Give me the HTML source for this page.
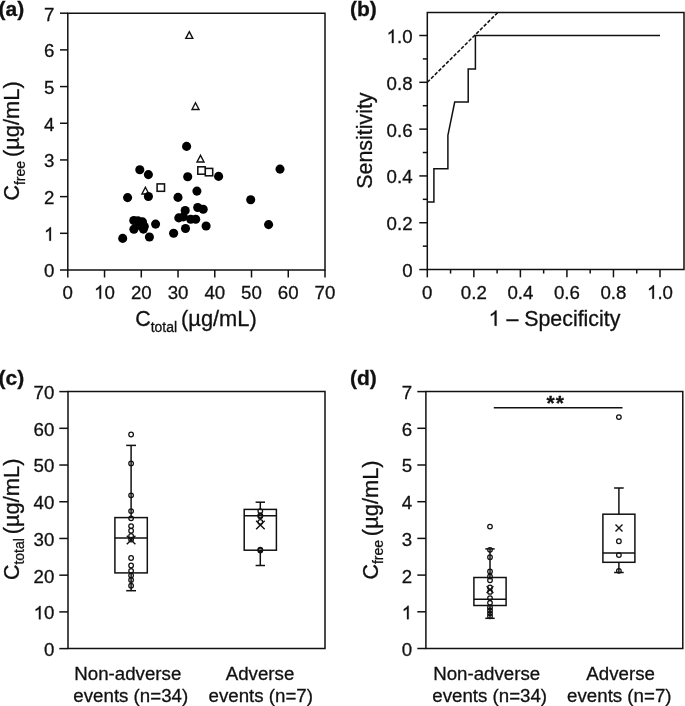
<!DOCTYPE html>
<html><head><meta charset="utf-8"><style>
html,body{margin:0;padding:0;background:#fff;}
body{width:685px;height:706px;overflow:hidden;}
svg{display:block;font-family:"Liberation Sans",sans-serif;filter:grayscale(1);}
</style></head><body>
<svg width="685" height="706" viewBox="0 0 685 706">
<g stroke="#111" fill="none">
<path d="M67.80,13.20 H325.00 V270.00 H67.80 Z" fill="none" stroke-width="1.5" stroke-linejoin="miter"/>
<line x1="60.00" y1="270.00" x2="67.80" y2="270.00" stroke-width="1.5" />
<text fill="#111" stroke="#111" stroke-width="0.3" x="0" y="0" transform="translate(54.40,277.40) scale(1,1.0)" font-size="18.7" text-anchor="end" >0</text>
<line x1="60.00" y1="233.31" x2="67.80" y2="233.31" stroke-width="1.5" />
<path d="M583,0 L763,0 L763,1466 L646,1466 C614,1403 560,1337 486,1270 C412,1203 324,1146 222,1099 L222,925 C278,946 342,977 414,1018 C486,1059 542,1099 583,1138 Z" transform="translate(44.00,240.71) scale(0.00913,-0.00913)" fill="#111" stroke="#111" stroke-width="32.9"/>
<text fill="#111" stroke="#111" stroke-width="0.3" x="0" y="0" transform="translate(54.40,240.71) scale(1,1.0)" font-size="18.7" text-anchor="end" > </text>
<line x1="60.00" y1="196.63" x2="67.80" y2="196.63" stroke-width="1.5" />
<text fill="#111" stroke="#111" stroke-width="0.3" x="0" y="0" transform="translate(54.40,204.03) scale(1,1.0)" font-size="18.7" text-anchor="end" >2</text>
<line x1="60.00" y1="159.94" x2="67.80" y2="159.94" stroke-width="1.5" />
<text fill="#111" stroke="#111" stroke-width="0.3" x="0" y="0" transform="translate(54.40,167.34) scale(1,1.0)" font-size="18.7" text-anchor="end" >3</text>
<line x1="60.00" y1="123.26" x2="67.80" y2="123.26" stroke-width="1.5" />
<text fill="#111" stroke="#111" stroke-width="0.3" x="0" y="0" transform="translate(54.40,130.66) scale(1,1.0)" font-size="18.7" text-anchor="end" >4</text>
<line x1="60.00" y1="86.57" x2="67.80" y2="86.57" stroke-width="1.5" />
<text fill="#111" stroke="#111" stroke-width="0.3" x="0" y="0" transform="translate(54.40,93.97) scale(1,1.0)" font-size="18.7" text-anchor="end" >5</text>
<line x1="60.00" y1="49.89" x2="67.80" y2="49.89" stroke-width="1.5" />
<text fill="#111" stroke="#111" stroke-width="0.3" x="0" y="0" transform="translate(54.40,57.29) scale(1,1.0)" font-size="18.7" text-anchor="end" >6</text>
<line x1="60.00" y1="13.20" x2="67.80" y2="13.20" stroke-width="1.5" />
<text fill="#111" stroke="#111" stroke-width="0.3" x="0" y="0" transform="translate(54.40,20.60) scale(1,1.0)" font-size="18.7" text-anchor="end" >7</text>
<line x1="67.80" y1="270.00" x2="67.80" y2="277.50" stroke-width="1.5" />
<text fill="#111" stroke="#111" stroke-width="0.3" x="0" y="0" transform="translate(67.80,298.70) scale(1,1.0)" font-size="18.7" text-anchor="middle" >0</text>
<line x1="104.54" y1="270.00" x2="104.54" y2="277.50" stroke-width="1.5" />
<path d="M583,0 L763,0 L763,1466 L646,1466 C614,1403 560,1337 486,1270 C412,1203 324,1146 222,1099 L222,925 C278,946 342,977 414,1018 C486,1059 542,1099 583,1138 Z" transform="translate(94.14,298.70) scale(0.00913,-0.00913)" fill="#111" stroke="#111" stroke-width="32.9"/>
<text fill="#111" stroke="#111" stroke-width="0.3" x="0" y="0" transform="translate(104.54,298.70) scale(1,1.0)" font-size="18.7" text-anchor="middle" > 0</text>
<line x1="141.29" y1="270.00" x2="141.29" y2="277.50" stroke-width="1.5" />
<text fill="#111" stroke="#111" stroke-width="0.3" x="0" y="0" transform="translate(141.29,298.70) scale(1,1.0)" font-size="18.7" text-anchor="middle" >20</text>
<line x1="178.03" y1="270.00" x2="178.03" y2="277.50" stroke-width="1.5" />
<text fill="#111" stroke="#111" stroke-width="0.3" x="0" y="0" transform="translate(178.03,298.70) scale(1,1.0)" font-size="18.7" text-anchor="middle" >30</text>
<line x1="214.77" y1="270.00" x2="214.77" y2="277.50" stroke-width="1.5" />
<text fill="#111" stroke="#111" stroke-width="0.3" x="0" y="0" transform="translate(214.77,298.70) scale(1,1.0)" font-size="18.7" text-anchor="middle" >40</text>
<line x1="251.51" y1="270.00" x2="251.51" y2="277.50" stroke-width="1.5" />
<text fill="#111" stroke="#111" stroke-width="0.3" x="0" y="0" transform="translate(251.51,298.70) scale(1,1.0)" font-size="18.7" text-anchor="middle" >50</text>
<line x1="288.26" y1="270.00" x2="288.26" y2="277.50" stroke-width="1.5" />
<text fill="#111" stroke="#111" stroke-width="0.3" x="0" y="0" transform="translate(288.26,298.70) scale(1,1.0)" font-size="18.7" text-anchor="middle" >60</text>
<line x1="325.00" y1="270.00" x2="325.00" y2="277.50" stroke-width="1.5" />
<text fill="#111" stroke="#111" stroke-width="0.3" x="0" y="0" transform="translate(325.00,298.70) scale(1,1.0)" font-size="18.7" text-anchor="middle" >70</text>
<text fill="#111" stroke="#111" stroke-width="0.3" x="0" y="0" transform="translate(135.23,326.20) scale(1,1.02)" font-size="21.4" text-anchor="start">C<tspan font-size="14.0" dy="5.4">total&#160;</tspan><tspan dy="-5.4" textLength="75.76" lengthAdjust="spacingAndGlyphs">(µg/mL)</tspan></text>
<text fill="#111" stroke="#111" stroke-width="0.3" x="0" y="0" transform="translate(19.00,200.47) rotate(-90) scale(1,1.02)" font-size="21.4" text-anchor="start">C<tspan font-size="14.0" dy="5.4">free&#160;</tspan><tspan dy="-5.4" textLength="75.76" lengthAdjust="spacingAndGlyphs">(µg/mL)</tspan></text>
<text fill="#111" stroke="#111" stroke-width="0.3" x="0" y="0" transform="translate(-1.40,16.00) scale(1,1.0)" font-size="21.0" text-anchor="start" font-weight="bold" >(a)</text>
<path d="M189.30,31.65 L192.80,38.35 L185.80,38.35 Z" fill="#fff" stroke-width="1.4" stroke-linejoin="miter"/>
<path d="M195.50,102.75 L199.00,109.45 L192.00,109.45 Z" fill="#fff" stroke-width="1.4" stroke-linejoin="miter"/>
<path d="M200.50,155.35 L204.00,162.05 L197.00,162.05 Z" fill="#fff" stroke-width="1.4" stroke-linejoin="miter"/>
<path d="M145.40,187.25 L148.90,193.95 L141.90,193.95 Z" fill="#fff" stroke-width="1.4" stroke-linejoin="miter"/>
<rect x="157.10" y="183.90" width="7.4" height="7.4" fill="#fff" stroke-width="1.55"/>
<rect x="205.30" y="168.40" width="7.4" height="7.4" fill="#fff" stroke-width="1.55"/>
<rect x="197.80" y="166.80" width="7.4" height="7.4" fill="#fff" stroke-width="1.55"/>
<circle cx="139.80" cy="169.70" r="4.55" fill="#000" stroke="none"/>
<circle cx="148.40" cy="174.60" r="4.55" fill="#000" stroke="none"/>
<circle cx="186.60" cy="146.40" r="4.55" fill="#000" stroke="none"/>
<circle cx="187.70" cy="176.70" r="4.55" fill="#000" stroke="none"/>
<circle cx="218.60" cy="176.40" r="4.55" fill="#000" stroke="none"/>
<circle cx="127.60" cy="197.60" r="4.55" fill="#000" stroke="none"/>
<circle cx="148.40" cy="196.50" r="4.55" fill="#000" stroke="none"/>
<circle cx="178.00" cy="197.40" r="4.55" fill="#000" stroke="none"/>
<circle cx="196.90" cy="191.10" r="4.55" fill="#000" stroke="none"/>
<circle cx="250.70" cy="199.80" r="4.55" fill="#000" stroke="none"/>
<circle cx="185.20" cy="210.50" r="4.55" fill="#000" stroke="none"/>
<circle cx="197.70" cy="207.50" r="4.55" fill="#000" stroke="none"/>
<circle cx="203.20" cy="209.20" r="4.55" fill="#000" stroke="none"/>
<circle cx="178.80" cy="217.90" r="4.55" fill="#000" stroke="none"/>
<circle cx="183.40" cy="216.90" r="4.55" fill="#000" stroke="none"/>
<circle cx="190.70" cy="219.20" r="4.55" fill="#000" stroke="none"/>
<circle cx="195.70" cy="219.30" r="4.55" fill="#000" stroke="none"/>
<circle cx="206.10" cy="226.00" r="4.55" fill="#000" stroke="none"/>
<circle cx="185.50" cy="228.50" r="4.55" fill="#000" stroke="none"/>
<circle cx="173.60" cy="233.20" r="4.55" fill="#000" stroke="none"/>
<circle cx="122.70" cy="238.40" r="4.55" fill="#000" stroke="none"/>
<circle cx="149.40" cy="237.00" r="4.55" fill="#000" stroke="none"/>
<circle cx="155.60" cy="224.10" r="4.55" fill="#000" stroke="none"/>
<circle cx="133.80" cy="220.50" r="4.55" fill="#000" stroke="none"/>
<circle cx="137.90" cy="220.70" r="4.55" fill="#000" stroke="none"/>
<circle cx="142.50" cy="221.90" r="4.55" fill="#000" stroke="none"/>
<circle cx="144.30" cy="226.40" r="4.55" fill="#000" stroke="none"/>
<circle cx="133.90" cy="229.30" r="4.55" fill="#000" stroke="none"/>
<circle cx="143.40" cy="229.10" r="4.55" fill="#000" stroke="none"/>
<circle cx="268.60" cy="224.60" r="4.55" fill="#000" stroke="none"/>
<circle cx="280.00" cy="169.10" r="4.55" fill="#000" stroke="none"/>
<circle cx="138.60" cy="225.30" r="4.55" fill="#000" stroke="none"/>
<path d="M427.30,12.50 H684.00 V269.55 H427.30 Z" fill="none" stroke-width="1.5" stroke-linejoin="miter"/>
<line x1="419.30" y1="269.55" x2="427.30" y2="269.55" stroke-width="1.5" />
<text fill="#111" stroke="#111" stroke-width="0.3" x="0" y="0" transform="translate(412.60,276.95) scale(1,1.0)" font-size="18.7" text-anchor="end" >0</text>
<line x1="422.80" y1="246.15" x2="427.30" y2="246.15" stroke-width="1.5" />
<line x1="419.30" y1="222.74" x2="427.30" y2="222.74" stroke-width="1.5" />
<text fill="#111" stroke="#111" stroke-width="0.3" x="0" y="0" transform="translate(412.60,230.14) scale(1,1.0)" font-size="18.7" text-anchor="end" >0.2</text>
<line x1="422.80" y1="199.33" x2="427.30" y2="199.33" stroke-width="1.5" />
<line x1="419.30" y1="175.93" x2="427.30" y2="175.93" stroke-width="1.5" />
<text fill="#111" stroke="#111" stroke-width="0.3" x="0" y="0" transform="translate(412.60,183.33) scale(1,1.0)" font-size="18.7" text-anchor="end" >0.4</text>
<line x1="422.80" y1="152.53" x2="427.30" y2="152.53" stroke-width="1.5" />
<line x1="419.30" y1="129.12" x2="427.30" y2="129.12" stroke-width="1.5" />
<text fill="#111" stroke="#111" stroke-width="0.3" x="0" y="0" transform="translate(412.60,136.52) scale(1,1.0)" font-size="18.7" text-anchor="end" >0.6</text>
<line x1="422.80" y1="105.71" x2="427.30" y2="105.71" stroke-width="1.5" />
<line x1="419.30" y1="82.31" x2="427.30" y2="82.31" stroke-width="1.5" />
<text fill="#111" stroke="#111" stroke-width="0.3" x="0" y="0" transform="translate(412.60,89.71) scale(1,1.0)" font-size="18.7" text-anchor="end" >0.8</text>
<line x1="422.80" y1="58.91" x2="427.30" y2="58.91" stroke-width="1.5" />
<line x1="419.30" y1="35.50" x2="427.30" y2="35.50" stroke-width="1.5" />
<path d="M583,0 L763,0 L763,1466 L646,1466 C614,1403 560,1337 486,1270 C412,1203 324,1146 222,1099 L222,925 C278,946 342,977 414,1018 C486,1059 542,1099 583,1138 Z" transform="translate(386.60,42.90) scale(0.00913,-0.00913)" fill="#111" stroke="#111" stroke-width="32.9"/>
<text fill="#111" stroke="#111" stroke-width="0.3" x="0" y="0" transform="translate(412.60,42.90) scale(1,1.0)" font-size="18.7" text-anchor="end" > .0</text>
<line x1="427.30" y1="269.55" x2="427.30" y2="277.35" stroke-width="1.5" />
<text fill="#111" stroke="#111" stroke-width="0.3" x="0" y="0" transform="translate(427.30,298.70) scale(1,1.0)" font-size="18.7" text-anchor="middle" >0</text>
<line x1="450.57" y1="269.55" x2="450.57" y2="273.55" stroke-width="1.5" />
<line x1="473.84" y1="269.55" x2="473.84" y2="277.35" stroke-width="1.5" />
<text fill="#111" stroke="#111" stroke-width="0.3" x="0" y="0" transform="translate(473.84,298.70) scale(1,1.0)" font-size="18.7" text-anchor="middle" >0.2</text>
<line x1="497.11" y1="269.55" x2="497.11" y2="273.55" stroke-width="1.5" />
<line x1="520.38" y1="269.55" x2="520.38" y2="277.35" stroke-width="1.5" />
<text fill="#111" stroke="#111" stroke-width="0.3" x="0" y="0" transform="translate(520.38,298.70) scale(1,1.0)" font-size="18.7" text-anchor="middle" >0.4</text>
<line x1="543.65" y1="269.55" x2="543.65" y2="273.55" stroke-width="1.5" />
<line x1="566.92" y1="269.55" x2="566.92" y2="277.35" stroke-width="1.5" />
<text fill="#111" stroke="#111" stroke-width="0.3" x="0" y="0" transform="translate(566.92,298.70) scale(1,1.0)" font-size="18.7" text-anchor="middle" >0.6</text>
<line x1="590.19" y1="269.55" x2="590.19" y2="273.55" stroke-width="1.5" />
<line x1="613.46" y1="269.55" x2="613.46" y2="277.35" stroke-width="1.5" />
<text fill="#111" stroke="#111" stroke-width="0.3" x="0" y="0" transform="translate(613.46,298.70) scale(1,1.0)" font-size="18.7" text-anchor="middle" >0.8</text>
<line x1="636.73" y1="269.55" x2="636.73" y2="273.55" stroke-width="1.5" />
<line x1="660.00" y1="269.55" x2="660.00" y2="277.35" stroke-width="1.5" />
<path d="M583,0 L763,0 L763,1466 L646,1466 C614,1403 560,1337 486,1270 C412,1203 324,1146 222,1099 L222,925 C278,946 342,977 414,1018 C486,1059 542,1099 583,1138 Z" transform="translate(647.00,298.70) scale(0.00913,-0.00913)" fill="#111" stroke="#111" stroke-width="32.9"/>
<text fill="#111" stroke="#111" stroke-width="0.3" x="0" y="0" transform="translate(660.00,298.70) scale(1,1.0)" font-size="18.7" text-anchor="middle" > .0</text>
<path d="M583,0 L763,0 L763,1466 L646,1466 C614,1403 560,1337 486,1270 C412,1203 324,1146 222,1099 L222,925 C278,946 342,977 414,1018 C486,1059 542,1099 583,1138 Z" transform="translate(488.57,325.70) scale(0.01044,-0.01045)" fill="#111" stroke="#111" stroke-width="28.7"/>
<text fill="#111" stroke="#111" stroke-width="0.3" x="0" y="0" transform="translate(488.57,325.70) scale(1,1.02)" font-size="21.4" text-anchor="start" textLength="131.87" lengthAdjust="spacingAndGlyphs" >  – Specificity</text>
<text fill="#111" stroke="#111" stroke-width="0.3" x="0" y="0" transform="translate(372.2,188.67) rotate(-90) scale(1,1.02)" font-size="21.4" text-anchor="start" textLength="96.21" lengthAdjust="spacingAndGlyphs">Sensitivity</text>
<text fill="#111" stroke="#111" stroke-width="0.3" x="0" y="0" transform="translate(350.00,15.80) scale(1,1.0)" font-size="21.0" text-anchor="start" font-weight="bold" >(b)</text>
<path d="M427.30,202.00 L433.90,202.00 L433.90,168.80 L447.90,168.80 L447.90,135.40 L454.70,102.10 L468.20,102.10 L468.20,68.90 L475.40,68.90 L475.40,35.60 L660.00,35.60" fill="none" stroke-width="1.5" stroke-linejoin="miter"/>
<line x1="427.30" y1="82.31" x2="497.8" y2="12.5" stroke-width="1.55" stroke-dasharray="3.6,1.7"/>
<path d="M68.00,391.60 H325.00 V648.60 H68.00 Z" fill="none" stroke-width="1.5" stroke-linejoin="miter"/>
<line x1="59.30" y1="648.60" x2="68.00" y2="648.60" stroke-width="1.5" />
<text fill="#111" stroke="#111" stroke-width="0.3" x="0" y="0" transform="translate(54.40,656.00) scale(1,1.0)" font-size="18.7" text-anchor="end" >0</text>
<line x1="59.30" y1="611.89" x2="68.00" y2="611.89" stroke-width="1.5" />
<path d="M583,0 L763,0 L763,1466 L646,1466 C614,1403 560,1337 486,1270 C412,1203 324,1146 222,1099 L222,925 C278,946 342,977 414,1018 C486,1059 542,1099 583,1138 Z" transform="translate(33.60,619.29) scale(0.00913,-0.00913)" fill="#111" stroke="#111" stroke-width="32.9"/>
<text fill="#111" stroke="#111" stroke-width="0.3" x="0" y="0" transform="translate(54.40,619.29) scale(1,1.0)" font-size="18.7" text-anchor="end" > 0</text>
<line x1="59.30" y1="575.17" x2="68.00" y2="575.17" stroke-width="1.5" />
<text fill="#111" stroke="#111" stroke-width="0.3" x="0" y="0" transform="translate(54.40,582.57) scale(1,1.0)" font-size="18.7" text-anchor="end" >20</text>
<line x1="59.30" y1="538.46" x2="68.00" y2="538.46" stroke-width="1.5" />
<text fill="#111" stroke="#111" stroke-width="0.3" x="0" y="0" transform="translate(54.40,545.86) scale(1,1.0)" font-size="18.7" text-anchor="end" >30</text>
<line x1="59.30" y1="501.74" x2="68.00" y2="501.74" stroke-width="1.5" />
<text fill="#111" stroke="#111" stroke-width="0.3" x="0" y="0" transform="translate(54.40,509.14) scale(1,1.0)" font-size="18.7" text-anchor="end" >40</text>
<line x1="59.30" y1="465.03" x2="68.00" y2="465.03" stroke-width="1.5" />
<text fill="#111" stroke="#111" stroke-width="0.3" x="0" y="0" transform="translate(54.40,472.43) scale(1,1.0)" font-size="18.7" text-anchor="end" >50</text>
<line x1="59.30" y1="428.31" x2="68.00" y2="428.31" stroke-width="1.5" />
<text fill="#111" stroke="#111" stroke-width="0.3" x="0" y="0" transform="translate(54.40,435.71) scale(1,1.0)" font-size="18.7" text-anchor="end" >60</text>
<line x1="59.30" y1="391.60" x2="68.00" y2="391.60" stroke-width="1.5" />
<text fill="#111" stroke="#111" stroke-width="0.3" x="0" y="0" transform="translate(54.40,399.00) scale(1,1.0)" font-size="18.7" text-anchor="end" >70</text>
<text fill="#111" stroke="#111" stroke-width="0.3" x="0" y="0" transform="translate(18.90,580.07) rotate(-90) scale(1,1.02)" font-size="21.4" text-anchor="start">C<tspan font-size="14.0" dy="5.4">total&#160;</tspan><tspan dy="-5.4" textLength="75.76" lengthAdjust="spacingAndGlyphs">(µg/mL)</tspan></text>
<text fill="#111" stroke="#111" stroke-width="0.3" x="0" y="0" transform="translate(-1.40,384.80) scale(1,1.0)" font-size="21.0" text-anchor="start" font-weight="bold" >(c)</text>
<line x1="131.10" y1="445.40" x2="131.10" y2="517.60" stroke-width="1.5" />
<line x1="131.10" y1="572.90" x2="131.10" y2="590.70" stroke-width="1.5" />
<line x1="126.20" y1="445.40" x2="136.00" y2="445.40" stroke-width="1.5" />
<line x1="126.20" y1="590.70" x2="136.00" y2="590.70" stroke-width="1.5" />
<rect x="114.90" y="517.60" width="32.40" height="55.30" fill="none" stroke-width="1.5"/>
<line x1="114.90" y1="537.90" x2="147.30" y2="537.90" stroke-width="1.5" />
<circle cx="131.10" cy="434.50" r="2.3" fill="none" stroke-width="1.25"/>
<circle cx="131.10" cy="463.40" r="2.3" fill="none" stroke-width="1.25"/>
<circle cx="131.10" cy="495.30" r="2.3" fill="none" stroke-width="1.25"/>
<circle cx="131.10" cy="511.10" r="2.3" fill="none" stroke-width="1.25"/>
<circle cx="131.10" cy="518.30" r="2.3" fill="none" stroke-width="1.25"/>
<circle cx="131.10" cy="526.10" r="2.3" fill="none" stroke-width="1.25"/>
<circle cx="131.10" cy="530.70" r="2.3" fill="none" stroke-width="1.25"/>
<circle cx="131.10" cy="535.80" r="2.3" fill="none" stroke-width="1.25"/>
<circle cx="131.10" cy="539.60" r="2.3" fill="none" stroke-width="1.25"/>
<circle cx="131.10" cy="558.00" r="2.3" fill="none" stroke-width="1.25"/>
<circle cx="131.10" cy="565.50" r="2.3" fill="none" stroke-width="1.25"/>
<circle cx="131.10" cy="570.80" r="2.3" fill="none" stroke-width="1.25"/>
<circle cx="131.10" cy="575.50" r="2.3" fill="none" stroke-width="1.25"/>
<circle cx="131.10" cy="579.90" r="2.3" fill="none" stroke-width="1.25"/>
<circle cx="131.10" cy="585.70" r="2.3" fill="none" stroke-width="1.25"/>
<path d="M126.80,535.70 L135.40,544.30 M126.80,544.30 L135.40,535.70" stroke-width="1.4" fill="none"/>
<line x1="260.30" y1="502.20" x2="260.30" y2="509.40" stroke-width="1.5" />
<line x1="260.30" y1="550.20" x2="260.30" y2="565.50" stroke-width="1.5" />
<line x1="255.60" y1="502.20" x2="265.00" y2="502.20" stroke-width="1.5" />
<line x1="255.60" y1="565.50" x2="265.00" y2="565.50" stroke-width="1.5" />
<rect x="244.20" y="509.40" width="32.20" height="40.80" fill="none" stroke-width="1.5"/>
<line x1="244.20" y1="515.80" x2="276.40" y2="515.80" stroke-width="1.5" />
<circle cx="260.30" cy="511.10" r="2.3" fill="none" stroke-width="1.25"/>
<circle cx="260.30" cy="515.50" r="2.3" fill="none" stroke-width="1.25"/>
<circle cx="260.30" cy="516.30" r="2.3" fill="none" stroke-width="1.25"/>
<circle cx="260.30" cy="521.90" r="2.3" fill="none" stroke-width="1.25"/>
<circle cx="260.30" cy="549.60" r="2.3" fill="none" stroke-width="1.25"/>
<circle cx="260.30" cy="550.40" r="2.3" fill="none" stroke-width="1.25"/>
<path d="M256.10,520.70 L264.70,529.30 M256.10,529.30 L264.70,520.70" stroke-width="1.4" fill="none"/>
<text fill="#111" stroke="#111" stroke-width="0.3" x="0" y="0" transform="translate(74.32,679.90) scale(1,1.02)" font-size="18.7" text-anchor="start" >Non-adverse</text>
<text fill="#111" stroke="#111" stroke-width="0.3" x="0" y="0" transform="translate(73.36,701.80) scale(1,1.02)" font-size="18.7" text-anchor="start" >events (n=34)</text>
<text fill="#111" stroke="#111" stroke-width="0.3" x="0" y="0" transform="translate(225.76,679.90) scale(1,1.02)" font-size="18.7" text-anchor="start" >Adverse</text>
<text fill="#111" stroke="#111" stroke-width="0.3" x="0" y="0" transform="translate(208.51,701.80) scale(1,1.02)" font-size="18.7" text-anchor="start" >events (n=7)</text>
<path d="M425.90,391.60 H682.80 V648.50 H425.90 Z" fill="none" stroke-width="1.5" stroke-linejoin="miter"/>
<line x1="417.30" y1="648.50" x2="425.90" y2="648.50" stroke-width="1.5" />
<text fill="#111" stroke="#111" stroke-width="0.3" x="0" y="0" transform="translate(412.10,655.90) scale(1,1.0)" font-size="18.7" text-anchor="end" >0</text>
<line x1="417.30" y1="611.80" x2="425.90" y2="611.80" stroke-width="1.5" />
<path d="M583,0 L763,0 L763,1466 L646,1466 C614,1403 560,1337 486,1270 C412,1203 324,1146 222,1099 L222,925 C278,946 342,977 414,1018 C486,1059 542,1099 583,1138 Z" transform="translate(401.70,619.20) scale(0.00913,-0.00913)" fill="#111" stroke="#111" stroke-width="32.9"/>
<text fill="#111" stroke="#111" stroke-width="0.3" x="0" y="0" transform="translate(412.10,619.20) scale(1,1.0)" font-size="18.7" text-anchor="end" > </text>
<line x1="417.30" y1="575.10" x2="425.90" y2="575.10" stroke-width="1.5" />
<text fill="#111" stroke="#111" stroke-width="0.3" x="0" y="0" transform="translate(412.10,582.50) scale(1,1.0)" font-size="18.7" text-anchor="end" >2</text>
<line x1="417.30" y1="538.40" x2="425.90" y2="538.40" stroke-width="1.5" />
<text fill="#111" stroke="#111" stroke-width="0.3" x="0" y="0" transform="translate(412.10,545.80) scale(1,1.0)" font-size="18.7" text-anchor="end" >3</text>
<line x1="417.30" y1="501.70" x2="425.90" y2="501.70" stroke-width="1.5" />
<text fill="#111" stroke="#111" stroke-width="0.3" x="0" y="0" transform="translate(412.10,509.10) scale(1,1.0)" font-size="18.7" text-anchor="end" >4</text>
<line x1="417.30" y1="465.00" x2="425.90" y2="465.00" stroke-width="1.5" />
<text fill="#111" stroke="#111" stroke-width="0.3" x="0" y="0" transform="translate(412.10,472.40) scale(1,1.0)" font-size="18.7" text-anchor="end" >5</text>
<line x1="417.30" y1="428.30" x2="425.90" y2="428.30" stroke-width="1.5" />
<text fill="#111" stroke="#111" stroke-width="0.3" x="0" y="0" transform="translate(412.10,435.70) scale(1,1.0)" font-size="18.7" text-anchor="end" >6</text>
<line x1="417.30" y1="391.60" x2="425.90" y2="391.60" stroke-width="1.5" />
<text fill="#111" stroke="#111" stroke-width="0.3" x="0" y="0" transform="translate(412.10,399.00) scale(1,1.0)" font-size="18.7" text-anchor="end" >7</text>
<text fill="#111" stroke="#111" stroke-width="0.3" x="0" y="0" transform="translate(377.90,579.57) rotate(-90) scale(1,1.02)" font-size="21.4" text-anchor="start">C<tspan font-size="14.0" dy="5.4">free&#160;</tspan><tspan dy="-5.4" textLength="75.76" lengthAdjust="spacingAndGlyphs">(µg/mL)</tspan></text>
<text fill="#111" stroke="#111" stroke-width="0.3" x="0" y="0" transform="translate(350.00,385.00) scale(1,1.0)" font-size="21.0" text-anchor="start" font-weight="bold" >(d)</text>
<line x1="490.00" y1="548.90" x2="490.00" y2="577.50" stroke-width="1.5" />
<line x1="490.00" y1="605.50" x2="490.00" y2="618.30" stroke-width="1.5" />
<line x1="485.30" y1="548.90" x2="494.70" y2="548.90" stroke-width="1.5" />
<line x1="485.30" y1="618.30" x2="494.70" y2="618.30" stroke-width="1.5" />
<rect x="473.90" y="577.50" width="32.20" height="28.00" fill="none" stroke-width="1.5"/>
<line x1="473.90" y1="599.20" x2="506.10" y2="599.20" stroke-width="1.5" />
<circle cx="490.00" cy="526.60" r="2.3" fill="none" stroke-width="1.25"/>
<circle cx="490.00" cy="549.80" r="2.3" fill="none" stroke-width="1.25"/>
<circle cx="490.00" cy="557.20" r="2.3" fill="none" stroke-width="1.25"/>
<circle cx="490.00" cy="571.50" r="2.3" fill="none" stroke-width="1.25"/>
<circle cx="490.00" cy="576.50" r="2.3" fill="none" stroke-width="1.25"/>
<circle cx="490.00" cy="580.20" r="2.3" fill="none" stroke-width="1.25"/>
<circle cx="490.00" cy="587.50" r="2.3" fill="none" stroke-width="1.25"/>
<circle cx="490.00" cy="591.90" r="2.3" fill="none" stroke-width="1.25"/>
<circle cx="490.00" cy="598.10" r="2.3" fill="none" stroke-width="1.25"/>
<circle cx="490.00" cy="602.80" r="2.3" fill="none" stroke-width="1.25"/>
<circle cx="490.00" cy="607.50" r="2.3" fill="none" stroke-width="1.25"/>
<circle cx="490.00" cy="610.40" r="2.3" fill="none" stroke-width="1.25"/>
<circle cx="490.00" cy="613.30" r="2.3" fill="none" stroke-width="1.25"/>
<circle cx="490.00" cy="616.20" r="2.3" fill="none" stroke-width="1.25"/>
<path d="M486.60,586.30 L493.40,593.10 M486.60,593.10 L493.40,586.30" stroke-width="1.4" fill="none"/>
<line x1="618.90" y1="488.00" x2="618.90" y2="514.20" stroke-width="1.5" />
<line x1="618.90" y1="562.30" x2="618.90" y2="572.50" stroke-width="1.5" />
<line x1="614.10" y1="488.00" x2="623.70" y2="488.00" stroke-width="1.5" />
<line x1="614.10" y1="572.50" x2="623.70" y2="572.50" stroke-width="1.5" />
<rect x="602.90" y="514.20" width="32.00" height="48.10" fill="none" stroke-width="1.5"/>
<line x1="602.90" y1="553.00" x2="634.90" y2="553.00" stroke-width="1.5" />
<circle cx="618.90" cy="417.10" r="2.3" fill="none" stroke-width="1.25"/>
<circle cx="618.90" cy="541.20" r="2.3" fill="none" stroke-width="1.25"/>
<circle cx="618.90" cy="555.10" r="2.3" fill="none" stroke-width="1.25"/>
<circle cx="618.90" cy="570.80" r="2.3" fill="none" stroke-width="1.25"/>
<path d="M615.50,524.40 L622.50,531.40 M615.50,531.40 L622.50,524.40" stroke-width="1.4" fill="none"/>
<text fill="#111" stroke="#111" stroke-width="0.3" x="0" y="0" transform="translate(433.22,679.90) scale(1,1.02)" font-size="18.7" text-anchor="start" >Non-adverse</text>
<text fill="#111" stroke="#111" stroke-width="0.3" x="0" y="0" transform="translate(432.26,701.80) scale(1,1.02)" font-size="18.7" text-anchor="start" >events (n=34)</text>
<text fill="#111" stroke="#111" stroke-width="0.3" x="0" y="0" transform="translate(586.36,679.90) scale(1,1.02)" font-size="18.7" text-anchor="start" >Adverse</text>
<text fill="#111" stroke="#111" stroke-width="0.3" x="0" y="0" transform="translate(567.11,701.80) scale(1,1.02)" font-size="18.7" text-anchor="start" >events (n=7)</text>
<line x1="493.80" y1="407.80" x2="622.50" y2="407.80" stroke-width="1.5" />
<text fill="#111" stroke="#111" stroke-width="0.3" x="0" y="0" transform="translate(546.60,410.30) scale(1,1.0)" font-size="21" text-anchor="start" font-weight="bold" letter-spacing="0.9">**</text>
</g>
</svg>
</body></html>
